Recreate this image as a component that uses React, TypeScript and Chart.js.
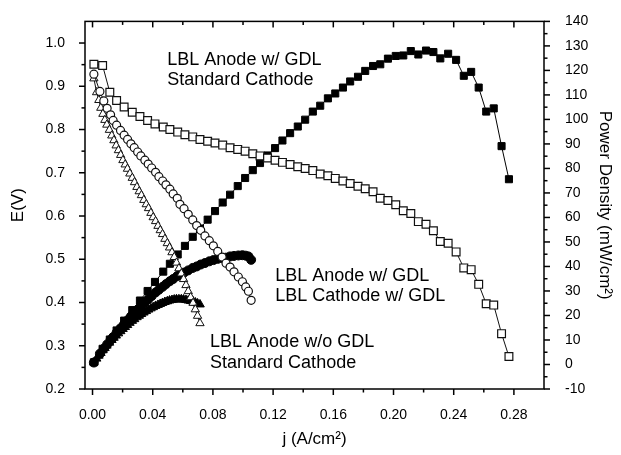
import { useEffect, useRef } from 'react';
import { Chart, registerables } from 'chart.js';

Chart.register(...registerables);

const FONT = '"Liberation Sans", Arial, Helvetica, sans-serif';

// ---- Tick labels ----
const X_TICKS = [0, 0.04, 0.08, 0.12, 0.16, 0.2, 0.24, 0.28];
const V_TICKS = [0.2, 0.3, 0.4, 0.5, 0.6, 0.7, 0.8, 0.9, 1.0];
const P_TICKS = [-10, 0, 10, 20, 30, 40, 50, 60, 70, 80, 90, 100, 110, 120, 130, 140];

// ---- LBL Anode w/ GDL, Standard Cathode (squares) ----
const sqJ = [0.0009, 0.0067, 0.0115, 0.016, 0.021, 0.0264, 0.0315, 0.0366, 0.0415, 0.047,
  0.0514, 0.0566, 0.0614, 0.0666, 0.0714, 0.0765, 0.0814, 0.0865, 0.0914, 0.0965,
  0.1014, 0.1065, 0.1113, 0.1163, 0.1213, 0.1262, 0.1313, 0.1364, 0.1413, 0.1464,
  0.1513, 0.1564, 0.1613, 0.1664, 0.1712, 0.1764, 0.1812, 0.1864, 0.1912, 0.1963,
  0.2015, 0.2065, 0.2115, 0.2165, 0.2216, 0.2265, 0.2311, 0.2363, 0.2416, 0.2467,
  0.2516, 0.2566, 0.2616, 0.2666, 0.2718, 0.2767];
const sqV = [0.951, 0.948, 0.886, 0.867, 0.852, 0.84, 0.83, 0.821, 0.813, 0.806,
  0.8, 0.794, 0.788, 0.783, 0.777, 0.773, 0.769, 0.764, 0.758, 0.754,
  0.75, 0.744, 0.739, 0.734, 0.729, 0.724, 0.719, 0.714, 0.71, 0.705,
  0.697, 0.693, 0.687, 0.681, 0.675, 0.669, 0.663, 0.656, 0.641, 0.636,
  0.626, 0.612, 0.606, 0.587, 0.581, 0.566, 0.541, 0.537, 0.517, 0.48,
  0.476, 0.442, 0.397, 0.394, 0.328, 0.275];
const sqP = [0.9, 6.4, 10.2, 13.9, 17.9, 22.2, 26.1, 30.0, 33.7, 37.9,
  41.1, 44.9, 48.4, 52.1, 55.5, 59.1, 62.6, 66.1, 69.3, 72.8,
  76.1, 79.3, 82.2, 85.3, 88.3, 91.4, 94.4, 97.1, 99.9, 103.2,
  105.6, 108.6, 110.6, 113.0, 115.5, 117.4, 119.8, 121.8, 122.5, 124.8,
  125.9, 126.1, 127.9, 126.5, 128.1, 127.5, 124.9, 126.8, 124.3, 117.8,
  119.4, 113.0, 103.2, 104.5, 89.1, 75.6];

// ---- LBL Anode w/ GDL, LBL Cathode w/ GDL (circles) ----
const ciJ = [0.0009, 0.0049, 0.0075, 0.0097, 0.012, 0.0137, 0.016, 0.0186, 0.021, 0.0233,
  0.0255, 0.0277, 0.03, 0.0321, 0.0348, 0.037, 0.0393, 0.0419, 0.0441, 0.0466,
  0.0488, 0.0514, 0.0536, 0.0563, 0.0581, 0.0608, 0.0636, 0.0666, 0.0692, 0.0719,
  0.0747, 0.0776, 0.0803, 0.0832, 0.0861, 0.0887, 0.0914, 0.094, 0.0969, 0.0996,
  0.1018, 0.1036, 0.1054];
const ciV = [0.928, 0.888, 0.866, 0.849, 0.834, 0.821, 0.81, 0.798, 0.787, 0.777,
  0.767, 0.758, 0.748, 0.739, 0.729, 0.72, 0.711, 0.701, 0.691, 0.681,
  0.672, 0.662, 0.651, 0.641, 0.627, 0.617, 0.604, 0.591, 0.578, 0.567,
  0.554, 0.543, 0.531, 0.518, 0.505, 0.491, 0.482, 0.471, 0.459, 0.448,
  0.436, 0.426, 0.405];
const ciP = [0.8, 4.4, 6.5, 8.2, 10.0, 11.2, 13.0, 14.8, 16.5, 18.1,
  19.6, 21.0, 22.4, 23.7, 25.4, 26.6, 27.9, 29.4, 30.5, 31.7,
  32.8, 34.0, 34.9, 36.1, 36.4, 37.5, 38.4, 39.4, 40.0, 40.8,
  41.4, 42.1, 42.6, 43.1, 43.5, 43.6, 44.1, 44.3, 44.5, 44.6,
  44.4, 44.1, 42.7];

// ---- LBL Anode w/o GDL, Standard Cathode (triangles) ----
const trJ = [0.0009, 0.0027, 0.0042, 0.0055, 0.0069, 0.0082, 0.0095, 0.0112, 0.0128, 0.0142,
  0.0157, 0.0172, 0.0187, 0.0202, 0.0217, 0.0232, 0.0248, 0.0264, 0.0279, 0.0295,
  0.031, 0.0325, 0.0341, 0.0357, 0.0372, 0.0388, 0.0403, 0.0419, 0.0435, 0.045,
  0.0465, 0.0481, 0.0497, 0.0512, 0.0528, 0.0543, 0.0558, 0.0574, 0.059, 0.0605,
  0.0621, 0.0636, 0.0652, 0.0668, 0.0683, 0.0698, 0.0714];
const trV = [0.918, 0.886, 0.868, 0.85, 0.836, 0.822, 0.811, 0.799, 0.786, 0.775,
  0.763, 0.752, 0.741, 0.729, 0.719, 0.709, 0.698, 0.688, 0.678, 0.667,
  0.657, 0.648, 0.637, 0.627, 0.618, 0.607, 0.597, 0.588, 0.577, 0.567,
  0.558, 0.547, 0.537, 0.527, 0.516, 0.505, 0.492, 0.479, 0.467, 0.454,
  0.44, 0.426, 0.412, 0.399, 0.384, 0.369, 0.352];
const trP = [0.8, 2.4, 3.6, 4.7, 5.8, 6.7, 7.7, 8.9, 10.0, 10.9,
  11.8, 12.7, 13.6, 14.5, 15.3, 16.1, 17.0, 17.8, 18.5, 19.3,
  19.9, 20.6, 21.2, 21.8, 22.4, 22.9, 23.4, 23.9, 24.3, 24.7,
  25.1, 25.5, 25.8, 26.1, 26.3, 26.5, 26.6, 26.6, 26.6, 26.5,
  26.3, 26.1, 25.9, 25.7, 25.3, 24.9, 24.5];

// ---- In-plot labels (anchored in data coordinates) ----
const NOTE_TEXT = [
  ['LBL Anode w/ GDL', 'Standard Cathode'],
  ['LBL Anode w/ GDL', 'LBL Cathode w/ GDL'],
  ['LBL Anode w/o GDL', 'Standard Cathode'],
];
const NOTE_J = [0.0497, 0.1214, 0.0781];
const NOTE_V = [0.9496, 0.4499, 0.2967];

const pts = (xs: number[], ys: number[]) => xs.map((x, i) => ({ x, y: ys[i] }));

const framePlugin = {
  id: 'frameTicks',
  afterDatasetsDraw(chart: any) {
    const { ctx, chartArea: a, scales } = chart;
    const xs = scales.x, yl = scales.y, yr = scales.y1;
    ctx.save();
    ctx.strokeStyle = '#000';
    ctx.lineWidth = 1.5;
    ctx.strokeRect(a.left, a.top, a.right - a.left, a.bottom - a.top);
    const seg = (x1: number, y1: number, x2: number, y2: number) => {
      ctx.beginPath();
      ctx.moveTo(x1, y1);
      ctx.lineTo(x2, y2);
      ctx.stroke();
    };
    const MAJ = 6, MIN = 3.5;
    X_TICKS.forEach((v) => {
      const p = xs.getPixelForValue(v);
      seg(p, a.bottom, p, a.bottom + MAJ);
      seg(p, a.top, p, a.top + MAJ);
      const m = v + 0.02;
      if (m < xs.max - 1e-6) {
        const q = xs.getPixelForValue(m);
        seg(q, a.bottom, q, a.bottom + MIN);
        seg(q, a.top, q, a.top + MIN);
      }
    });
    V_TICKS.forEach((v) => {
      const p = yl.getPixelForValue(v);
      seg(a.left - MAJ, p, a.left, p);
      const m = v + 0.05;
      if (m < yl.max - 1e-6) {
        const q = yl.getPixelForValue(m);
        seg(a.left - MIN, q, a.left, q);
      }
    });
    P_TICKS.forEach((v) => {
      const p = yr.getPixelForValue(v);
      seg(a.right, p, a.right + MAJ, p);
      const m = v + 5;
      if (m < yr.max - 1e-6) {
        const q = yr.getPixelForValue(m);
        seg(a.right, q, a.right + MIN, q);
      }
    });
    ctx.fillStyle = '#000';
    ctx.font = `18px ${FONT}`;
    ctx.textAlign = 'left';
    ctx.textBaseline = 'alphabetic';
    NOTE_TEXT.forEach((lines, i) => {
      const x = xs.getPixelForValue(NOTE_J[i]);
      const y = yl.getPixelForValue(NOTE_V[i]);
      lines.forEach((t, k) => ctx.fillText(t, x, y + k * 20.5));
    });
    ctx.restore();
  },
};

export default function App() {
  const ref = useRef<HTMLCanvasElement>(null);
  useEffect(() => {
    document.body.style.margin = '0';
    const tickFont = { family: FONT, size: 14 };
    const titleFont = { family: FONT, size: 17 };
    const open = (style: string, r: number, bw: number) => ({
      pointStyle: style,
      pointRadius: r,
      pointBackgroundColor: '#fff',
      pointBorderColor: '#111',
      pointBorderWidth: bw,
      borderColor: '#111',
      backgroundColor: '#fff',
      borderWidth: 1,
      showLine: true,
    });
    const filled = (style: string, r: number) => ({
      pointStyle: style,
      pointRadius: r,
      pointBackgroundColor: '#000',
      pointBorderColor: '#000',
      pointBorderWidth: 1,
      borderColor: '#000',
      backgroundColor: '#000',
      borderWidth: 1,
      showLine: true,
    });
    const chart = new Chart(ref.current as HTMLCanvasElement, {
      type: 'scatter',
      data: {
        datasets: [
          { data: pts(sqJ, sqV), yAxisID: 'y', ...open('rect', 5.5, 1.2) },
          { data: pts(ciJ, ciV), yAxisID: 'y', ...open('circle', 4, 1.2) },
          { data: pts(trJ, trV), yAxisID: 'y', ...open('triangle', 4.8, 1) },
          { data: pts(sqJ, sqP), yAxisID: 'y1', ...filled('rect', 5) },
          { data: pts(ciJ, ciP), yAxisID: 'y1', ...filled('circle', 4.5) },
          { data: pts(trJ, trP), yAxisID: 'y1', ...filled('triangle', 5) },
        ] as any,
      },
      options: {
        responsive: false,
        animation: false,
        devicePixelRatio: 1,
        layout: { padding: { top: 18, left: 0, right: 0, bottom: 0 } },
        plugins: { legend: { display: false }, tooltip: { enabled: false } },
        scales: {
          x: {
            type: 'linear',
            position: 'bottom',
            min: -0.005,
            max: 0.3,
            grid: { display: false },
            border: { display: false },
            ticks: {
              font: tickFont,
              color: '#000',
              padding: 10,
              maxRotation: 0,
              autoSkip: false,
              callback: (v: any) => Number(v).toFixed(2),
            },
            afterBuildTicks: (s: any) => {
              s.ticks = X_TICKS.map((value) => ({ value }));
            },
            afterFit: (s: any) => {
              s.height = 66;
            },
            title: {
              display: true,
              text: 'j (A/cm²)',
              font: titleFont,
              color: '#000',
              padding: { top: 0, bottom: 5 },
            },
          },
          y: {
            type: 'linear',
            position: 'left',
            min: 0.2,
            max: 1.05,
            grid: { display: false },
            border: { display: false },
            ticks: {
              font: tickFont,
              color: '#000',
              padding: 12,
              autoSkip: false,
              callback: (v: any) => Number(v).toFixed(1),
            },
            afterBuildTicks: (s: any) => {
              s.ticks = V_TICKS.map((value) => ({ value }));
            },
            afterFit: (s: any) => {
              s.width = 85;
            },
            title: {
              display: true,
              text: 'E(V)',
              font: titleFont,
              color: '#000',
              padding: { top: 8, bottom: 0 },
            },
          },
          y1: {
            type: 'linear',
            position: 'right',
            min: -10,
            max: 140,
            grid: { display: false },
            border: { display: false },
            ticks: {
              font: tickFont,
              color: '#000',
              padding: 13,
              autoSkip: false,
              callback: (v: any) => String(v),
            },
            afterBuildTicks: (s: any) => {
              s.ticks = P_TICKS.map((value) => ({ value }));
            },
            afterFit: (s: any) => {
              s.width = 77;
            },
            title: {
              display: true,
              text: 'Power Density (mW/cm²)',
              font: titleFont,
              color: '#000',
              padding: { top: 6, bottom: 0 },
            },
          },
        },
      } as any,
      plugins: [framePlugin],
    });
    return () => chart.destroy();
  }, []);
  return (
    <div style={{ width: 621, height: 455 }}>
      <canvas ref={ref} width={621} height={455} style={{ display: 'block' }} />
    </div>
  );
}
